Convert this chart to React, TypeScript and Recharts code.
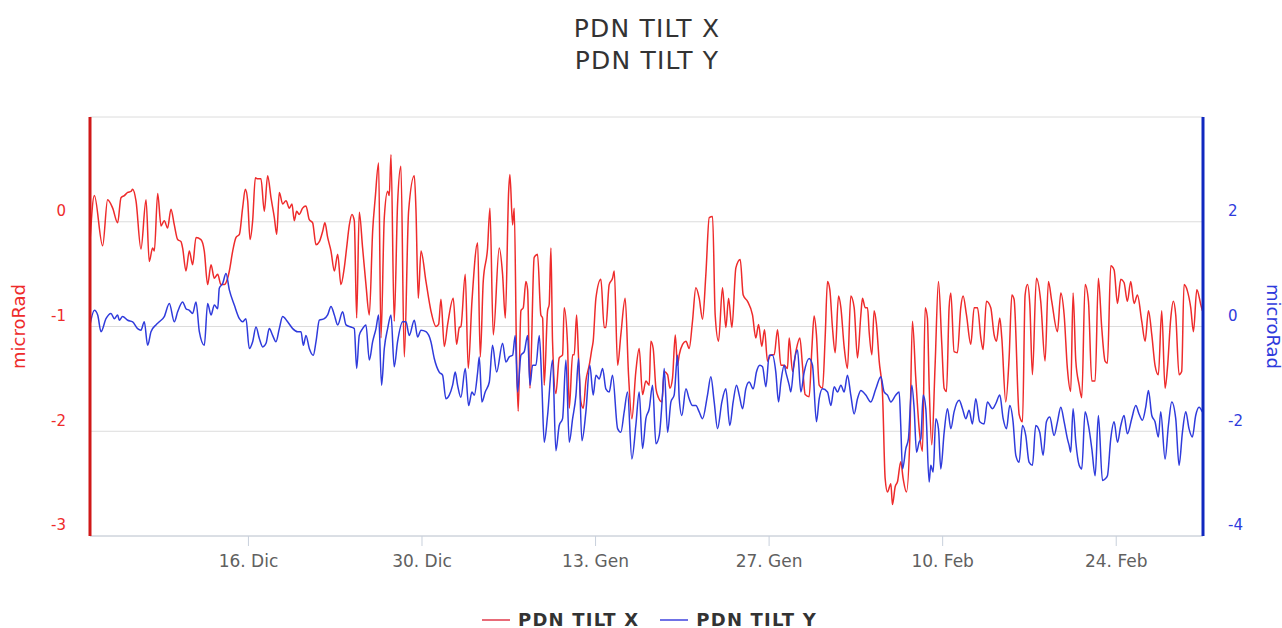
import { LineChart, Line, XAxis, YAxis, CartesianGrid } from 'recharts'

// days counted from 1 Dic 00:00
const tickDays = [15, 29, 43, 57, 71, 85]
const tickLabels = ['16. Dic', '30. Dic', '13. Gen', '27. Gen', '10. Feb', '24. Feb']
const leftTicks = [-3, -2, -1, 0, 1]
const rightTicks = [-4, -2, 0, 2, 4]

const tiltXDays = [
  2.22, 2.57, 3.24, 3.64, 4.05, 4.45, 4.72, 4.99, 5.26, 5.53, 5.66, 5.93, 6.33, 6.74, 7.0, 7.27, 7.41, 7.68, 7.95, 8.21,
  8.48, 8.75, 9.02, 9.29, 9.56, 9.69, 9.96, 10.23, 10.5, 10.77, 11.17, 11.44, 11.71, 11.98, 12.25, 12.52, 12.78, 13.05, 13.32, 13.46,
  13.73, 14.0, 14.27, 14.53, 14.75, 14.94, 15.13, 15.34, 15.56, 15.74, 16.01, 16.28, 16.55, 16.82, 17.09, 17.28, 17.49, 17.76, 18.03, 18.3,
  18.51, 18.7, 18.89, 19.1, 19.37, 19.64, 19.91, 20.18, 20.45, 20.72, 20.99, 21.17, 21.39, 21.66, 21.93, 22.2, 22.46, 22.73, 22.92, 23.14,
  23.35, 23.54, 23.73, 23.94, 24.21, 24.48, 24.75, 25.02, 25.23, 25.5, 25.69, 25.96, 26.23, 26.36, 26.5, 26.76, 27.03, 27.3, 27.57, 27.92,
  28.38, 28.51, 28.7, 28.92, 29.32, 29.72, 30.13, 30.34, 30.53, 30.8, 31.07, 31.52, 31.79, 32.01, 32.14, 32.49, 32.73, 33.03, 33.49, 33.7,
  33.94, 34.29, 34.48, 34.75, 35.23, 35.5, 35.72, 35.99, 36.09, 36.31, 36.44, 36.63, 36.76, 36.98, 37.17, 37.38, 37.52, 37.71, 38.05, 38.32,
  38.59, 38.73, 38.86, 39.13, 39.26, 39.4, 39.53, 39.8, 40.07, 40.34, 40.47, 40.74, 40.88, 41.15, 41.28, 41.47, 41.63, 41.82, 42.01, 42.22,
  42.49, 42.71, 42.81, 43.03, 43.43, 43.7, 43.83, 44.1, 44.37, 44.51, 44.78, 45.04, 45.39, 45.66, 45.93, 46.25, 46.52, 46.79, 47.06, 47.33,
  47.46, 47.65, 47.87, 48.08, 48.35, 48.54, 48.81, 49.0, 49.21, 49.43, 49.61, 49.75, 50.02, 50.29, 50.55, 50.82, 51.09, 51.36, 51.63, 51.9,
  52.17, 52.44, 52.65, 52.92, 53.24, 53.51, 53.73, 54.0, 54.32, 54.67, 54.91, 55.26, 55.66, 55.93, 56.15, 56.41, 56.63, 56.87, 57.14, 57.41,
  57.68, 57.95, 58.22, 58.48, 58.62, 58.89, 59.16, 59.48, 59.69, 59.91, 60.23, 60.45, 60.63, 60.82, 61.04, 61.31, 61.52, 61.71, 61.9, 62.11,
  62.33, 62.6, 62.79, 63.05, 63.32, 63.59, 63.86, 64.13, 64.4, 64.53, 64.75, 64.94, 65.07, 65.29, 65.47, 65.66, 65.88, 66.15, 66.36, 66.55,
  66.82, 66.95, 67.17, 67.36, 67.62, 67.81, 68.08, 68.35, 68.56, 68.83, 69.1, 69.37, 69.59, 69.77, 69.91, 70.12, 70.39, 70.66, 70.93, 71.12,
  71.31, 71.52, 71.66, 71.92, 72.19, 72.46, 72.65, 72.92, 73.27, 73.54, 73.81, 74.08, 74.26, 74.53, 74.88, 75.15, 75.34, 75.61, 75.77, 76.09,
  76.36, 76.58, 76.76, 77.17, 77.44, 77.65, 77.84, 78.03, 78.24, 78.56, 78.91, 79.26, 79.53, 79.8, 80.26, 80.53, 80.8, 81.06, 81.33, 81.52,
  81.74, 82.01, 82.22, 82.49, 82.76, 83.03, 83.3, 83.56, 83.83, 84.1, 84.29, 84.56, 84.83, 85.1, 85.37, 85.63, 85.9, 86.17, 86.44, 86.71,
  87.06, 87.33, 87.6, 87.87, 88.13, 88.4, 88.67, 88.94, 89.13, 89.4, 89.61, 89.8, 90.07, 90.28, 90.47, 90.74, 91.01, 91.23, 91.5, 91.82,
  91.95,
]
const tiltXValues = [
  -0.19, 0.25, -0.23, 0.21, 0.13, -0.01, 0.23, 0.25, 0.28, 0.29, 0.31, 0.2, -0.26, 0.21, -0.38, -0.25, -0.28, 0.27, -0.04, 0.01,
  -0.06, 0.12, -0.03, -0.17, -0.19, -0.25, -0.47, -0.28, -0.41, -0.15, -0.17, -0.28, -0.6, -0.41, -0.54, -0.5, -0.6, -0.6, -0.54, -0.47,
  -0.28, -0.15, -0.12, 0.13, 0.31, 0.2, -0.17, 0.01, 0.42, 0.41, 0.41, 0.1, 0.44, 0.23, 0.04, -0.12, 0.28, 0.17, 0.2, 0.13,
  0.17, 0.01, 0.1, 0.07, 0.13, 0.15, 0.02, -0.01, -0.22, -0.19, -0.09, -0.01, -0.15, -0.28, -0.47, -0.31, -0.6, -0.44, -0.25, -0.03,
  0.07, 0.01, -0.92, 0.09, -0.25, -0.6, -0.89, -0.09, 0.23, 0.56, -1.11, 0.04, 0.29, 0.25, 0.64, -0.95, 0.17, 0.53, -1.29, 0.1,
  0.44, 0.13, -0.73, -0.28, -0.57, -0.85, -1.0, -0.98, -0.74, -1.19, -0.98, -0.73, -1.17, -1.01, -1.0, -0.5, -1.4, -0.76, -0.2, -1.29,
  -0.57, -0.25, 0.13, -1.08, -0.25, -0.5, -0.92, 0.29, 0.45, -0.03, 0.13, -1.3, -1.81, -0.85, -0.82, -0.57, -0.65, -1.59, -0.34, -0.31,
  -0.89, -0.92, -1.56, -0.85, -0.79, -0.25, -1.14, -1.64, -1.3, -1.27, -0.82, -1.17, -1.78, -1.27, -1.27, -0.89, -1.3, -1.72, -1.78, -1.52,
  -1.37, -1.21, -1.14, -0.73, -0.55, -1.01, -1.01, -0.6, -0.54, -0.47, -1.37, -1.08, -0.73, -1.46, -1.88, -1.43, -1.21, -1.65, -1.52, -1.56,
  -1.14, -1.21, -1.59, -1.68, -1.72, -1.43, -1.46, -1.59, -1.49, -1.08, -1.37, -1.27, -1.17, -1.14, -1.21, -0.95, -0.63, -0.73, -0.93, -0.5,
  0.04, 0.05, -0.89, -1.14, -0.63, -1.01, -0.73, -1.01, -0.44, -0.36, -0.7, -0.76, -0.89, -1.11, -0.98, -1.19, -1.03, -1.33, -1.27, -1.27,
  -1.03, -1.37, -1.37, -1.4, -1.11, -1.43, -1.24, -1.11, -1.37, -1.65, -1.67, -1.21, -0.9, -1.08, -1.56, -1.59, -1.11, -0.57, -0.65, -1.01,
  -1.25, -0.71, -0.82, -1.19, -1.4, -0.71, -0.82, -1.3, -0.89, -0.73, -0.82, -0.82, -1.05, -1.27, -0.85, -0.98, -1.33, -1.65, -2.45, -2.58,
  -2.5, -2.7, -2.53, -2.48, -2.29, -2.45, -2.58, -2.07, -0.95, -1.49, -1.97, -2.19, -0.82, -0.92, -1.56, -2.13, -1.37, -0.57, -1.17, -1.59,
  -1.62, -0.82, -0.68, -1.24, -1.25, -0.82, -0.71, -0.89, -1.17, -0.82, -0.82, -1.11, -1.22, -0.76, -0.82, -1.08, -1.14, -0.92, -1.11, -1.72,
  -1.3, -0.7, -0.74, -1.84, -1.91, -0.7, -0.6, -0.79, -1.46, -0.54, -0.76, -1.33, -0.57, -0.76, -1.05, -0.68, -0.89, -1.4, -1.62, -0.68,
  -1.33, -1.56, -1.68, -0.6, -0.76, -1.52, -1.52, -0.54, -1.01, -1.33, -1.35, -0.42, -0.46, -0.78, -0.55, -0.58, -0.76, -0.57, -0.78, -0.7,
  -0.95, -1.14, -0.85, -1.08, -1.37, -1.46, -0.85, -1.59, -1.4, -0.92, -0.76, -0.89, -1.46, -1.43, -0.6, -0.66, -0.82, -1.05, -0.65, -0.79,
  -0.85,
]

const tiltYDays = [
  2.22, 2.57, 2.84, 3.11, 3.51, 3.91, 4.18, 4.45, 4.58, 4.85, 5.26, 5.66, 6.06, 6.33, 6.6, 6.87, 7.14, 7.54, 7.81, 8.21,
  8.62, 9.02, 9.29, 9.69, 9.96, 10.23, 10.5, 10.77, 11.04, 11.44, 11.71, 11.98, 12.25, 12.52, 12.65, 12.92, 13.19, 13.46, 13.86, 14.27,
  14.53, 14.8, 15.07, 15.34, 15.61, 15.88, 16.15, 16.42, 16.68, 16.95, 17.22, 17.49, 17.76, 18.16, 18.57, 18.97, 19.24, 19.43, 19.64, 19.91,
  20.23, 20.45, 20.72, 21.12, 21.39, 21.66, 21.93, 22.2, 22.6, 22.87, 23.27, 23.54, 23.73, 23.94, 24.21, 24.48, 24.75, 25.02, 25.29, 25.5,
  25.74, 25.96, 26.23, 26.5, 26.76, 27.03, 27.44, 27.71, 27.97, 28.38, 28.65, 28.92, 29.32, 29.72, 29.99, 30.39, 30.66, 30.93, 31.2, 31.47,
  31.68, 31.87, 32.14, 32.49, 32.76, 33.03, 33.22, 33.49, 33.62, 33.83, 34.1, 34.43, 34.69, 35.02, 35.5, 35.77, 36.04, 36.31, 36.52, 36.71,
  36.98, 37.25, 37.52, 37.71, 37.92, 38.19, 38.46, 38.67, 38.86, 39.13, 39.53, 39.8, 40.07, 40.34, 40.61, 40.88, 41.15, 41.42, 41.63, 41.9,
  42.22, 42.54, 42.81, 43.03, 43.3, 43.57, 43.83, 44.1, 44.37, 44.78, 45.04, 45.31, 45.58, 45.93, 46.25, 46.52, 46.79, 47.06, 47.33, 47.6,
  47.87, 48.14, 48.4, 48.54, 48.81, 49.08, 49.34, 49.61, 49.75, 49.96, 50.29, 50.55, 50.82, 51.09, 51.36, 51.63, 52.03, 52.3, 52.57, 52.84,
  53.19, 53.51, 53.83, 54.1, 54.37, 54.59, 54.86, 55.12, 55.39, 55.72, 55.98, 56.25, 56.47, 56.74, 57.01, 57.27, 57.54, 57.76, 57.95, 58.22,
  58.35, 58.62, 58.75, 59.02, 59.29, 59.56, 59.83, 60.23, 60.5, 60.82, 61.04, 61.31, 61.71, 61.98, 62.25, 62.52, 62.79, 63.05, 63.32, 63.59,
  63.86, 64.13, 64.4, 64.8, 65.2, 65.61, 66.01, 66.28, 66.55, 66.82, 67.22, 67.49, 67.62, 67.76, 68.03, 68.24, 68.51, 68.7, 68.89, 69.1,
  69.24, 69.43, 69.64, 69.91, 70.04, 70.23, 70.45, 70.66, 70.85, 71.12, 71.39, 71.66, 71.92, 72.33, 72.6, 72.87, 73.13, 73.4, 73.67, 73.99,
  74.34, 74.61, 75.02, 75.29, 75.61, 75.88, 76.15, 76.41, 76.68, 76.9, 77.17, 77.44, 77.7, 77.97, 78.24, 78.51, 78.83, 79.1, 79.37, 79.64,
  79.99, 80.26, 80.53, 80.8, 81.06, 81.2, 81.33, 81.52, 81.74, 82.01, 82.22, 82.49, 82.76, 83.03, 83.3, 83.56, 83.89, 84.1, 84.29, 84.56,
  84.83, 85.1, 85.37, 85.63, 85.9, 86.25, 86.58, 86.84, 87.11, 87.38, 87.6, 87.87, 88.13, 88.4, 88.59, 88.94, 89.21, 89.48, 89.8, 90.07,
  90.34, 90.61, 90.87, 91.14, 91.41, 91.68, 91.95,
]
const tiltYValues = [
  0.03, 0.31, 0.22, -0.1, 0.15, 0.25, 0.15, 0.22, 0.12, 0.19, 0.12, 0.09, -0.04, -0.07, 0.09, -0.36, -0.1, 0.03, 0.09, 0.19,
  0.44, 0.09, 0.28, 0.47, 0.34, 0.31, 0.25, 0.47, -0.1, -0.36, 0.44, 0.22, 0.41, 0.34, 0.73, 0.82, 1.01, 0.7, 0.41, 0.15,
  0.09, 0.15, -0.42, -0.29, -0.01, -0.23, -0.39, -0.32, -0.04, -0.17, -0.29, -0.04, 0.19, 0.09, -0.04, -0.1, -0.1, -0.36, -0.17, -0.42,
  -0.55, -0.29, 0.12, 0.15, 0.22, 0.38, 0.22, 0.03, 0.28, 0.03, -0.01, -0.04, -0.8, -0.17, -0.04, 0.03, -0.64, -0.29, -0.04, 0.22,
  -1.12, -0.42, -0.04, 0.22, -0.77, -0.29, 0.09, 0.09, -0.17, 0.12, -0.2, -0.07, -0.1, -0.29, -0.61, -0.87, -0.93, -1.38, -1.31, -1.12,
  -0.87, -1.12, -1.35, -0.8, -1.51, -1.25, -1.31, -0.87, -0.58, -1.44, -1.25, -1.06, -0.36, -0.87, -0.32, -0.68, -0.58, -0.55, -0.17, -1.25,
  -0.55, -0.48, -0.17, -1.12, -0.74, -0.74, -0.17, -1.12, -2.21, -1.7, -0.64, -2.37, -1.89, -1.76, -0.64, -2.21, -1.76, -1.31, -0.61, -2.18,
  -1.63, -0.74, -1.31, -0.93, -1.0, -0.8, -1.19, -1.25, -0.93, -1.95, -2.02, -1.63, -1.25, -2.53, -1.89, -1.25, -2.33, -1.76, -1.57, -1.12,
  -2.24, -2.08, -1.31, -0.8, -2.02, -1.44, -1.31, -0.55, -1.38, -1.7, -1.19, -1.38, -1.51, -1.51, -1.63, -1.76, -1.31, -0.96, -1.44, -1.95,
  -1.44, -1.19, -1.89, -1.44, -1.12, -1.31, -1.57, -1.19, -1.06, -1.19, -0.87, -0.74, -0.77, -1.15, -0.55, -0.55, -0.87, -1.44, -1.06, -0.74,
  -0.87, -1.12, -1.25, -0.68, -0.45, -1.25, -0.87, -0.61, -0.74, -1.82, -1.38, -1.19, -1.25, -1.51, -1.15, -1.25, -1.12, -1.25, -0.93, -1.31,
  -1.67, -1.38, -1.22, -1.31, -1.44, -1.19, -0.96, -1.25, -1.31, -1.44, -1.31, -1.25, -1.89, -2.72, -2.33, -2.14, -1.12, -1.57, -2.4, -2.21,
  -2.14, -1.31, -1.57, -2.97, -2.65, -2.78, -1.76, -1.95, -2.72, -2.02, -1.57, -1.95, -1.63, -1.41, -1.57, -1.76, -1.6, -1.86, -1.38, -1.82,
  -1.86, -1.44, -1.57, -1.47, -1.31, -1.76, -1.95, -1.51, -1.82, -2.46, -2.59, -1.89, -2.08, -2.59, -2.65, -1.89, -2.02, -2.46, -1.82, -1.73,
  -2.08, -1.82, -1.54, -1.82, -2.14, -2.27, -2.4, -1.57, -2.21, -2.65, -2.72, -1.63, -1.89, -2.33, -2.85, -1.7, -2.94, -2.91, -2.85, -2.14,
  -1.82, -2.21, -1.89, -1.7, -2.05, -1.76, -1.51, -1.67, -1.79, -1.54, -1.22, -1.7, -1.82, -2.11, -1.63, -2.53, -1.89, -1.44, -1.76, -2.65,
  -2.02, -1.63, -1.95, -2.11, -1.7, -1.54, -1.63,
]

const tiltX = tiltXDays.map((t, i) => ({ t, v: tiltXValues[i] }))
const tiltY = tiltYDays.map((t, i) => ({ t, v: tiltYValues[i] }))

const RED = '#ee2b2b'
const BLUE = '#2f3bdc'

function YTick(props: any) {
  const { x, y, payload, textAnchor, color, hide } = props
  if (payload.value === hide) return null
  return (
    <text x={x} y={y - 11} dy="0.355em" textAnchor={textAnchor} fill={color} fontSize={15}>
      {payload.value}
    </text>
  )
}

function AxisTitle(props: any) {
  const { viewBox, side, color } = props
  const { x, y, width, height } = viewBox
  const cx = side === 'left' ? x + 18 : x + width - 9
  const cy = y + height / 2
  return (
    <text
      x={cx}
      y={cy}
      transform={`rotate(${side === 'left' ? -90 : 90} ${cx} ${cy})`}
      textAnchor="middle"
      dominantBaseline="central"
      fill={color}
      fontSize={18}
    >
      microRad
    </text>
  )
}

export default function App() {
  return (
    <div
      style={{
        position: 'absolute',
        left: 0,
        top: 0,
        width: 1282,
        height: 628,
        background: '#fff',
        fontFamily: '"DejaVu Sans", sans-serif',
      }}
    >
      <div style={{ position: 'absolute', left: 0, width: 1294, top: 13, textAlign: 'center', color: '#333', fontSize: 25, letterSpacing: 1.2, lineHeight: '32px' }}>
        <div>PDN TILT X</div>
        <div>PDN TILT Y</div>
      </div>
      <LineChart width={1282} height={628} margin={{ top: 117, right: 0, bottom: 62, left: 0 }}>
        <CartesianGrid yAxisId="left" vertical={false} stroke="#dcdcdc" />
        <XAxis
          dataKey="t"
          type="number"
          domain={[2.22, 92]}
          ticks={tickDays}
          tickFormatter={(d: number) => tickLabels[tickDays.indexOf(d)]}
          height={30}
          axisLine={{ stroke: '#c8d0dc' }}
          tickLine={{ stroke: '#c8d0dc' }}
          tickSize={10}
          tickMargin={9}
          tick={{ fill: '#606060', fontSize: 17 }}
          allowDataOverflow
        />
        <YAxis
          yAxisId="left"
          orientation="left"
          width={90}
          domain={[-3, 1]}
          ticks={leftTicks}
          axisLine={{ stroke: '#d01818', strokeWidth: 3 }}
          tickLine={false}
          tickSize={0}
          tickMargin={24}
          tick={<YTick color={RED} hide={1} />}
          label={<AxisTitle side="left" color={RED} />}
        />
        <YAxis
          yAxisId="right"
          orientation="right"
          width={79}
          domain={[-4, 4]}
          ticks={rightTicks}
          axisLine={{ stroke: '#1028c0', strokeWidth: 3 }}
          tickLine={false}
          tickSize={0}
          tickMargin={25}
          tick={<YTick color={BLUE} hide={4} />}
          label={<AxisTitle side="right" color={BLUE} />}
        />
        <Line yAxisId="left" data={tiltX} dataKey="v" name="PDN TILT X" type="monotone" stroke={RED} strokeWidth={1.5} dot={false} isAnimationActive={false} />
        <Line yAxisId="right" data={tiltY} dataKey="v" name="PDN TILT Y" type="monotone" stroke={BLUE} strokeWidth={1.5} dot={false} isAnimationActive={false} />
      </LineChart>
      <div style={{ position: 'absolute', left: 482, top: 608, display: 'flex', alignItems: 'center', color: '#333', fontSize: 18, fontWeight: 'bold', letterSpacing: 1.2, lineHeight: '24px' }}>
        <span style={{ display: 'inline-block', width: 28, height: 2, background: '#e86b78', marginRight: 8 }} />
        <span>PDN TILT X</span>
        <span style={{ display: 'inline-block', width: 28, height: 2, background: '#6f72e6', marginLeft: 21, marginRight: 8 }} />
        <span>PDN TILT Y</span>
      </div>
    </div>
  )
}
